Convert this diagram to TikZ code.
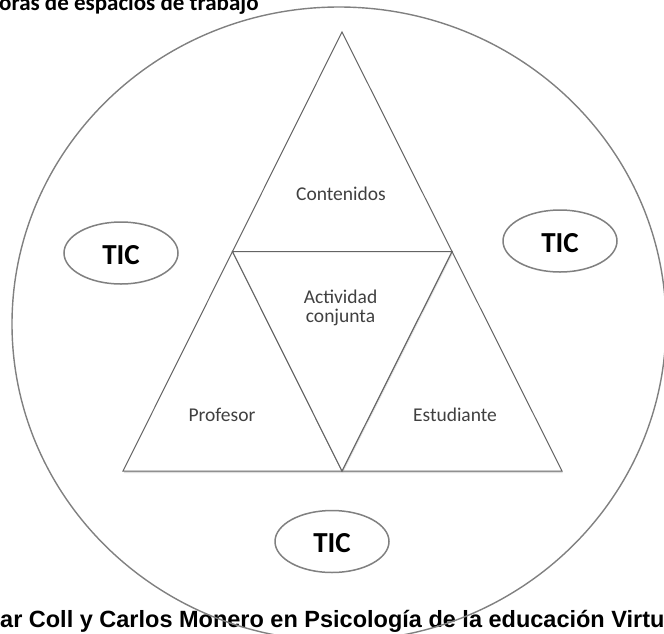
\documentclass[tikz,border=0pt]{standalone}
\usepackage{fontspec}
\setmainfont{Carlito}
\newfontfamily\arialfont{Liberation Sans}
\usetikzlibrary{shapes.geometric,shadows}
\definecolor{ringgray}{HTML}{808080}
\definecolor{edgegray}{HTML}{646464}
\definecolor{txtgray}{HTML}{404040}
\tikzset{
  ring/.style={draw=ringgray, line width=1.4pt},
  tri/.style={draw=edgegray, line width=1pt, fill=white, line join=miter,
     drop shadow={opacity=0.25, shadow xshift=0.8pt, shadow yshift=-2pt}},
  lbl/.style={text=txtgray, font=\fontsize{19.5}{20}\selectfont, inner sep=0pt},
  tic/.style={ellipse, draw=ringgray, line width=1.5pt, minimum width=114pt,
     minimum height=62pt, inner sep=0pt, text height=23pt,
     font=\bfseries\fontsize{29}{30}\selectfont, text=black},
  title/.style={font=\bfseries\fontsize{23}{24}\selectfont, inner sep=0pt, text=black},
  source/.style={font=\arialfont\bfseries\fontsize{23.5}{26}\selectfont, inner sep=0pt, text=black}
}
\begin{document}
\begin{tikzpicture}[x=1pt,y=-1pt]
\useasboundingbox (0,0) rectangle (664,633);
% cropped texts (under the ring)
\node[title, anchor=base west] (ttl) at (-1,10.5) {oras de espacios de trabajo};
\node[source, anchor=base west] (src) at (0,627) {ar Coll y Carlos Monero en Psicología de la educación Virtu};
% big circle
\draw[ring] (339,324) ellipse [x radius=327, y radius=317];
% triangle corners
\coordinate (A) at (342,32);
\coordinate (BL) at (123,471);
\coordinate (BR) at (562,471);
\coordinate (ML) at (232.5,251.5);
\coordinate (MR) at (452,251.5);
\coordinate (MB) at (342,471);
% four triangles
\draw[tri] (A) -- (MR) -- (ML) -- cycle;
\draw[tri] (ML) -- (MB) -- (BL) -- cycle;
\draw[tri] (MR) -- (BR) -- (MB) -- cycle;
\draw[tri] (ML) -- (MR) -- (MB) -- cycle;
% labels
\node[lbl, anchor=base] (cont) at (341,200.5) {Contenidos};
\node[lbl, align=center, font=\fontsize{19.5}{19.5}\selectfont] (act) at (340.5,308) {Actividad\\conjunta};
\node[lbl, anchor=base] (prof) at (222,421) {Profesor};
\node[lbl, anchor=base] (est) at (455,421) {Estudiante};
% TIC ellipses
\node[tic] (ticL) at (121,253) {TIC};
\node[tic] (ticR) at (560,241) {TIC};
\node[tic] (ticB) at (332,541.5) {TIC};
\end{tikzpicture}
\end{document}
